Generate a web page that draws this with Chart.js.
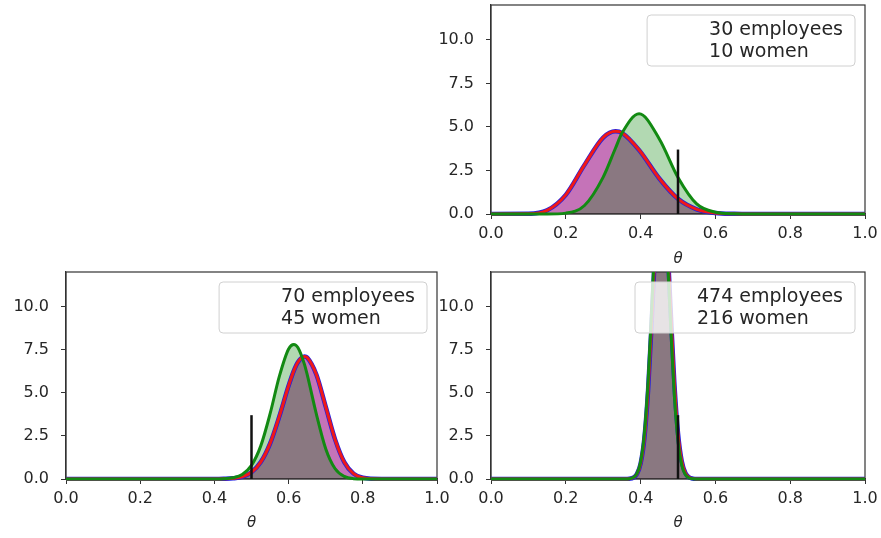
<!DOCTYPE html>
<html>
<head>
<meta charset="utf-8">
<script src="https://cdn.jsdelivr.net/npm/chart.js@4.4.1/dist/chart.umd.min.js"></script>
<style>
  html, body { margin: 0; padding: 0; background: #fff; }
  body { width: 881px; height: 538px; position: relative; overflow: hidden; }
  canvas { position: absolute; }
</style>
</head>
<body>
<canvas id="chartB" width="460" height="273" style="left:0;top:265px"></canvas>
<canvas id="chartA" width="451" height="265" style="left:430px;top:0"></canvas>
<canvas id="chartC" width="451" height="273" style="left:430px;top:265px"></canvas>
<script>
// panel A: 30 employees, 10 women
const thetaA = [0, 0.10, 0.15, 0.20, 0.25, 0.30, 0.333, 0.35, 0.396, 0.45, 0.50, 0.55, 0.60, 0.65, 0.70, 1.0];
const likeA  = [0, 0.01, 0.21, 1.10, 2.82, 4.39, 4.75, 4.66, 3.67, 2.04, 0.87, 0.27, 0.06, 0.01, 0, 0];
const postA  = [0, 0, 0, 0.05, 0.49, 2.12, 3.79, 4.63, 5.75, 4.31, 2.10, 0.58, 0.10, 0.01, 0, 0];

// panel B: 70 employees, 45 women
const thetaB = [0, 0.40, 0.425, 0.45, 0.475, 0.50, 0.525, 0.55, 0.575, 0.60, 0.614, 0.625, 0.643, 0.65, 0.675, 0.70, 0.725, 0.75, 0.775, 0.80, 0.85, 1.0];
const likeB  = [0, 0, 0.01, 0.04, 0.13, 0.39, 0.98, 2.05, 3.63, 5.41, 6.27, 6.77, 7.10, 7.04, 6.04, 4.19, 2.31, 0.98, 0.31, 0.07, 0, 0];
const postB  = [0, 0, 0.01, 0.07, 0.26, 0.79, 1.92, 3.77, 5.95, 7.54, 7.80, 7.62, 6.63, 6.06, 3.75, 1.76, 0.61, 0.15, 0.02, 0, 0, 0];

// panel C: 474 employees, 216 women
const thetaC = [0, 0.35, 0.36, 0.37, 0.38, 0.39, 0.40, 0.41, 0.42, 0.43, 0.44, 0.45, 0.455, 0.46, 0.47, 0.48, 0.49, 0.50, 0.51, 0.52, 0.53, 0.54, 0.55, 0.56, 1.0];
const likeC  = [0, 0, 0, 0.02, 0.07, 0.28, 0.89, 2.35, 5.14, 9.27, 13.8, 16.96, 17.5, 17.2, 14.4, 9.92, 5.65, 2.65, 1.03, 0.33, 0.09, 0.02, 0, 0, 0];
const postC  = [0, 0, 0, 0.02, 0.08, 0.31, 0.99, 2.62, 5.65, 10.0, 14.6, 17.4, 17.7, 17.1, 13.7, 9.07, 4.92, 2.19, 0.80, 0.24, 0.06, 0.01, 0, 0, 0];

const legendA = ['30 employees', '10 women'];
const legendB = ['70 employees', '45 women'];
const legendC = ['474 employees', '216 women'];

const xTicks = [0, 0.2, 0.4, 0.6, 0.8, 1.0];
const yTicks = [0, 2.5, 5, 7.5, 10];
const splitX = [0.5, 0.5];
const splitY = [0, 3.7];

const FONT = 'DejaVu Sans';
const textColor = '#262626';
const axisColor = '#333';

function pts(xs, ys) {
    return xs.map((x, i) => ({ x: x, y: ys[i] }));
}

// matplotlib-like box around the axes
const framePlugin = {
    id: 'frame',
    beforeDatasetsDraw(chart) {
        const { ctx, chartArea: a } = chart;
        ctx.save();
        ctx.strokeStyle = axisColor;
        ctx.lineWidth = 1.2;
        ctx.strokeRect(a.left, a.top, a.right - a.left, a.bottom - a.top);
        ctx.restore();
    }
};

// legend box with text only (no handles)
const textLegend = {
    id: 'textLegend',
    afterDatasetsDraw(chart, args, opts) {
        const { ctx, chartArea: a } = chart;
        const lines = opts.lines || [];
        ctx.save();
        ctx.font = '19px "' + FONT + '"';
        const w = Math.max(...lines.map(l => ctx.measureText(l).width));
        const bw = 62 + w + 12, bh = 51;
        const bx = a.right - 10 - bw, by = a.top + 10;
        ctx.beginPath();
        ctx.roundRect(bx, by, bw, bh, 4);
        ctx.fillStyle = 'rgba(255,255,255,0.8)';
        ctx.fill();
        ctx.strokeStyle = '#d0d0d0';
        ctx.lineWidth = 1;
        ctx.stroke();
        ctx.fillStyle = textColor;
        ctx.textBaseline = 'middle';
        lines.forEach((l, i) => ctx.fillText(l, bx + 62, by + 15.5 + i * 21.5));
        ctx.restore();
    }
};

function makeChart(id, theta, like, post, legend, pad, yWidth, xHeight, titlePad) {
    const line = { pointRadius: 0, cubicInterpolationMode: 'monotone', clip: { left: 2, right: 2, top: 0, bottom: 2 } };
    return new Chart(document.getElementById(id), {
        type: 'line',
        data: {
            datasets: [
                Object.assign({ data: pts(splitX, splitY), borderColor: '#111', borderWidth: 2.5, fill: false, order: 0 }, line, { cubicInterpolationMode: 'default' }),
                Object.assign({ data: pts(theta, post), borderColor: '#128a12', borderWidth: 3, fill: 'origin', backgroundColor: 'rgba(0,128,0,0.3)', order: 1 }, line),
                Object.assign({ data: pts(theta, like), borderColor: '#f01818', borderWidth: 3, fill: false, order: 2 }, line),
                Object.assign({ data: pts(theta, like), borderColor: '#2020e0', borderWidth: 4.5, fill: 'origin', backgroundColor: 'rgba(150,0,125,0.55)', order: 3 }, line)
            ]
        },
        options: {
            responsive: false,
            animation: false,
            events: [],
            layout: { padding: pad, autoPadding: false },
            plugins: {
                legend: { display: false },
                tooltip: { enabled: false },
                filler: { drawTime: 'beforeDatasetsDraw' },
                textLegend: { lines: legend }
            },
            scales: {
                x: {
                    type: 'linear',
                    min: 0,
                    max: 1,
                    afterBuildTicks: s => { s.ticks = xTicks.map(v => ({ value: v })); },
                    afterFit: s => { s.height = xHeight; s.paddingLeft = 0; s.paddingRight = 0; },
                    ticks: {
                        callback: v => Number(v).toFixed(1),
                        color: textColor,
                        font: { family: FONT, size: 16 },
                        padding: 5,
                        maxRotation: 0,
                        autoSkip: false
                    },
                    grid: { drawOnChartArea: false, drawTicks: true, tickLength: 5, color: axisColor },
                    border: { display: true, color: axisColor, width: 1.2 },
                    title: {
                        display: true,
                        text: 'θ',
                        color: textColor,
                        font: { family: FONT, size: 15, style: 'italic', lineHeight: 1 },
                        padding: { top: 0, bottom: titlePad }
                    }
                },
                y: {
                    type: 'linear',
                    min: 0,
                    max: 12,
                    afterBuildTicks: s => { s.ticks = yTicks.map(v => ({ value: v })); },
                    afterFit: s => { s.width = yWidth; s.paddingTop = 0; s.paddingBottom = 0; },
                    ticks: {
                        callback: v => Number(v).toFixed(1),
                        color: textColor,
                        font: { family: FONT, size: 16 },
                        padding: 12
                    },
                    grid: { drawOnChartArea: false, drawTicks: true, tickLength: 5, color: axisColor },
                    border: { display: true, color: axisColor, width: 1.2 }
                }
            }
        },
        plugins: [framePlugin, textLegend]
    });
}

makeChart('chartB', thetaB, likeB, postB, legendB, { left: 0, right: 23, top: 7, bottom: 0 }, 66, 59, 7);
makeChart('chartA', thetaA, likeA, postA, legendA, { left: 0, right: 16, top: 5, bottom: 0 }, 61, 51, -1.5);
makeChart('chartC', thetaC, likeC, postC, legendC, { left: 0, right: 16, top: 7, bottom: 0 }, 61, 59, 7);
</script>
</body>
</html>
